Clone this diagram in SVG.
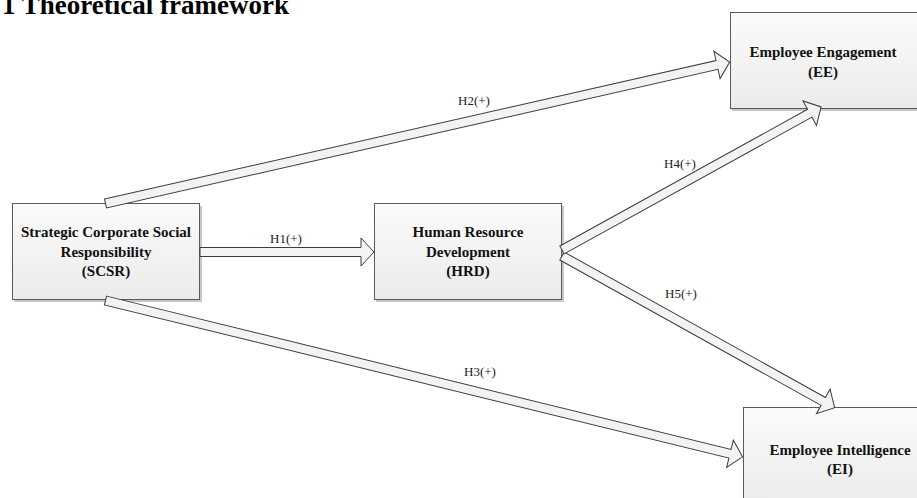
<svg xmlns="http://www.w3.org/2000/svg" width="917" height="498" viewBox="0 0 917 498">
<style>
.box{fill:url(#bg);stroke:#5a5a5a;stroke-width:1}
.sh{fill:#c8c8c8}
.nt{font-family:"Liberation Serif","Times New Roman",serif;font-weight:bold;font-size:15px;fill:#111;text-anchor:middle}
.lb{font-family:"Liberation Serif","Times New Roman",serif;font-size:13px;fill:#222;text-anchor:middle}
.ar{fill:#f3f3f3;stroke:#3c3c3c;stroke-width:1;stroke-linejoin:miter}
.ti{font-family:"Liberation Serif","Times New Roman",serif;font-weight:bold;font-size:27px;fill:#000}
</style>
<defs>
<linearGradient id="bg" x1="0" y1="0" x2="0" y2="1">
<stop offset="0" stop-color="#fbfbfb"/>
<stop offset="1" stop-color="#ebebeb"/>
</linearGradient>
</defs>
<rect width="917" height="498" fill="#fff"/>
<text class="ti" x="2" y="14">1 Theoretical framework</text>

<g id="SCSR">
<rect class="sh" x="14" y="206" width="188" height="96"/>
<rect class="box" x="12.5" y="203.5" width="187" height="96"/>
<text class="nt" x="106" y="237">Strategic Corporate Social</text>
<text class="nt" x="106" y="256.5">Responsibility</text>
<text class="nt" x="106" y="276">(SCSR)</text>
</g>
<g id="HRD">
<rect class="sh" x="376" y="206" width="188" height="96"/>
<rect class="box" x="374.5" y="203.5" width="187" height="96"/>
<text class="nt" x="468" y="237">Human Resource</text>
<text class="nt" x="468" y="256.5">Development</text>
<text class="nt" x="468" y="276">(HRD)</text>
</g>
<g id="EE">
<rect class="sh" x="732" y="15" width="190" height="96"/>
<rect class="box" x="730.5" y="12.5" width="190" height="96"/>
<text class="nt" x="823" y="57">Employee Engagement</text>
<text class="nt" x="823" y="77">(EE)</text>
</g>
<g id="EI">
<rect class="sh" x="745" y="410" width="190" height="100"/>
<rect class="box" x="743.5" y="407.5" width="190" height="100"/>
<text class="nt" x="840" y="455">Employee Intelligence</text>
<text class="nt" x="840" y="474">(EI)</text>
</g>

<g id="connectors">
<g transform="translate(200,252)"><polygon class="ar" points="0,-4.5 161,-4.5 161,-14 174,0 161,14 161,4.5 0,4.5"/></g>
<g transform="translate(105.5,203.5) rotate(-12.77)"><polygon class="ar" points="0,-4.5 627,-4.5 627,-14 640,0 627,14 627,4.5 0,4.5"/></g>
<g transform="translate(105.5,300.5) rotate(13.79)"><polygon class="ar" points="0,-4.5 643,-4.5 643,-14 656,0 643,14 643,4.5 0,4.5"/></g>
<g transform="translate(562,256) rotate(29.1)"><polygon class="ar" points="0,-4.5 299,-4.5 299,-14 312,0 299,14 299,4.5 0,4.5"/></g>
<g transform="translate(562,250) rotate(-28.9)"><polygon class="ar" points="0,-4.5 283,-4.5 283,-14 296,0 283,14 283,4.5 0,4.5"/></g>
<text class="lb" x="286" y="243">H1(+)</text>
<text class="lb" x="474" y="105">H2(+)</text>
<text class="lb" x="480" y="376">H3(+)</text>
<text class="lb" x="680" y="168">H4(+)</text>
<text class="lb" x="681" y="298">H5(+)</text>
</g>
</svg>
